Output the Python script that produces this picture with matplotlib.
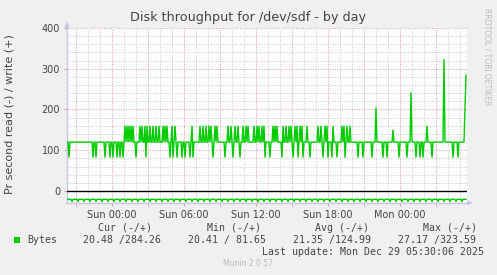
import numpy as np
import matplotlib
matplotlib.use('Agg')
import matplotlib.pyplot as plt
from matplotlib.patches import Polygon, Rectangle

# ---------------- data (5-minute samples, Sat 20:15 -> Mon 05:30) ----------------
start_hour = -3.75          # hours relative to Sun 00:00
step_hours = 5 / 60

write_bytes = [
    120,120,82,120,120,120,120,120,120,120,120,120,120,120,120,120,120,120,120,120,
    120,120,120,120,120,120,82,120,120,82,120,120,120,120,120,120,120,120,82,120,
    120,120,120,82,120,120,82,120,120,120,82,120,120,82,120,120,82,120,160,120,
    160,120,160,120,160,120,160,120,120,82,120,120,120,160,120,160,120,120,160,82,
    160,120,120,160,120,120,160,120,120,160,120,120,160,120,120,120,160,120,160,120,
    160,120,120,82,120,160,82,120,160,120,82,120,120,120,120,82,120,120,82,120,
    120,120,120,82,120,160,82,120,120,120,120,120,120,160,120,120,160,120,120,160,
    120,120,160,120,160,120,82,120,160,120,160,120,120,120,120,120,120,120,82,120,
    120,160,120,120,160,120,82,120,160,120,120,160,120,82,120,120,160,120,120,160,
    120,160,120,120,120,120,120,160,120,120,160,120,160,120,120,160,120,160,82,120,
    120,120,120,82,120,120,160,120,160,120,160,120,120,120,120,82,160,120,120,160,
    120,120,160,120,160,120,82,120,160,120,160,82,120,160,120,160,82,120,120,120,
    160,120,120,82,120,120,120,120,120,120,120,160,120,120,160,120,82,120,160,120,
    160,82,120,120,120,82,160,120,120,120,82,120,120,120,120,160,120,160,82,120,
    160,120,120,160,120,120,120,120,120,120,120,82,120,120,120,120,82,120,120,120,
    120,120,120,120,120,82,120,120,120,205,120,120,120,120,120,120,82,120,120,120,
    82,120,120,120,120,120,150,120,120,120,120,120,82,120,120,120,120,120,120,120,
    82,120,120,120,242,120,120,120,120,82,120,120,120,82,120,120,82,120,120,120,
    160,120,120,120,120,82,120,120,120,120,120,120,120,120,120,120,120,323.6,120,120,
    120,120,120,120,120,120,82,120,120,120,120,82,120,120,120,120,120,120,200,284.3,
]

read_bytes = [
    20.4,20.4,20.4,20.4,20.4,26.0,20.4,20.4,20.4,20.4,20.4,26.0,20.4,20.4,20.4,20.4,20.4,26.0,20.4,20.4,
    20.4,20.4,20.4,26.0,20.4,20.4,20.4,20.4,20.4,26.0,20.4,20.4,20.4,20.4,20.4,26.0,20.4,20.4,20.4,20.4,
    20.4,26.0,20.4,20.4,20.4,20.4,20.4,26.0,20.4,20.4,20.4,20.4,20.4,26.0,20.4,20.4,20.4,20.4,20.4,26.0,
    20.4,20.4,20.4,20.4,20.4,26.0,20.4,20.4,20.4,20.4,20.4,26.0,20.4,20.4,20.4,20.4,20.4,26.0,20.4,20.4,
    20.4,20.4,20.4,26.0,20.4,20.4,20.4,20.4,20.4,26.0,20.4,20.4,20.4,20.4,20.4,26.0,20.4,20.4,20.4,20.4,
    20.4,26.0,20.4,20.4,20.4,20.4,20.4,26.0,20.4,20.4,20.4,20.4,20.4,26.0,20.4,20.4,20.4,20.4,20.4,26.0,
    20.4,20.4,20.4,20.4,20.4,26.0,20.4,20.4,20.4,20.4,20.4,26.0,20.4,20.4,20.4,20.4,20.4,26.0,20.4,20.4,
    20.4,20.4,20.4,26.0,20.4,20.4,20.4,20.4,20.4,26.0,20.4,20.4,20.4,20.4,20.4,26.0,20.4,20.4,20.4,20.4,
    20.4,26.0,20.4,20.4,20.4,20.4,20.4,26.0,20.4,20.4,20.4,20.4,20.4,26.0,20.4,20.4,20.4,20.4,20.4,26.0,
    20.4,20.4,20.4,20.4,20.4,26.0,20.4,20.4,20.4,20.4,20.4,27.2,20.4,20.4,20.4,20.4,20.4,26.0,20.4,20.4,
    20.4,20.4,20.4,26.0,20.4,20.4,20.4,20.4,20.4,26.0,20.4,20.4,20.4,20.4,20.4,26.0,20.4,20.4,20.4,20.4,
    20.4,26.0,20.4,20.4,20.4,20.4,20.4,26.0,20.4,20.4,20.4,20.4,20.4,26.0,20.4,20.4,20.4,20.4,20.4,26.0,
    20.4,20.4,20.4,20.4,20.4,26.0,20.4,20.4,20.4,20.4,20.4,26.0,20.4,20.4,20.4,20.4,20.4,26.0,20.4,20.4,
    20.4,20.4,20.4,26.0,20.4,20.4,20.4,20.4,20.4,26.0,20.4,20.4,20.4,20.4,20.4,26.0,20.4,20.4,20.4,20.4,
    20.4,26.0,20.4,20.4,20.4,20.4,20.4,26.0,20.4,20.4,20.4,20.4,20.4,26.0,20.4,20.4,20.4,20.4,20.4,26.0,
    20.4,20.4,20.4,20.4,20.4,26.0,20.4,20.4,20.4,20.4,20.4,26.0,20.4,20.4,20.4,20.4,20.4,26.0,20.4,20.4,
    20.4,20.4,20.4,26.0,20.4,20.4,20.4,20.4,20.4,26.0,20.4,20.4,20.4,20.4,20.4,26.0,20.4,20.4,20.4,20.4,
    20.4,26.0,20.4,20.4,20.4,20.4,20.4,26.0,20.4,20.4,20.4,20.4,20.4,26.0,20.4,20.4,20.4,20.4,20.4,26.0,
    20.4,20.4,20.4,20.4,20.4,26.0,20.4,20.4,20.4,20.4,20.4,26.0,20.4,20.4,20.4,20.4,20.4,26.0,20.4,20.4,
    20.4,20.4,20.4,26.0,20.4,20.4,20.4,20.4,20.4,26.0,20.4,20.4,20.4,20.4,20.4,26.0,20.4,20.4,20.5,20.5,
]

x_tick_hours = [0, 6, 12, 18, 24]
x_tick_labels = ["Sun 00:00", "Sun 06:00", "Sun 12:00", "Sun 18:00", "Mon 00:00"]
y_ticks = [0, 100, 200, 300, 400]

legend_name = "Bytes"
stat_headers = ["Cur (-/+)", "Min (-/+)", "Avg (-/+)", "Max (-/+)"]
stat_values = ["20.48 /284.26", "20.41 / 81.65", "21.35 /124.99", "27.17 /323.59"]
last_update = "Last update: Mon Dec 29 05:30:06 2025"
title = "Disk throughput for /dev/sdf - by day"
ylabel = "Pr second read (-) / write (+)"

# ---------------- figure ----------------
W, H = 497, 275
BG = '#F0F0F0'
GREEN = '#00CC00'
TXT = '#444444'
AXC = '#C4C4F0'
MAJ = '#DE9A9A'
MIN = '#C8C8C8'

def px(x, y):
    return (x / W, 1 - y / H)

fig = plt.figure(figsize=(W / 100, H / 100), dpi=100, facecolor=BG)
ax = fig.add_axes([67 / W, 1 - 203 / H, 400 / W, 175 / H])
ax.set_facecolor('white')

t = start_hour + step_hours * np.arange(len(write_bytes))
x0, x1 = start_hour, start_hour + 400 * step_hours
ax.set_xlim(x0, x1)
ax.set_ylim(-29.5, 400)

# grid
dots = (0, (1, 1.5))
for v in range(-20, 401, 20):
    if v % 100 == 0:
        continue
    ax.axhline(v, color=MIN, lw=0.7, ls=dots, zorder=1)
for h in range(-3, 30):
    if h % 3 == 0:
        continue
    ax.axvline(h, color=MIN, lw=0.7, ls=dots, zorder=1)
for v in range(100, 401, 100):
    ax.axhline(v, color=MAJ, lw=0.7, ls=dots, zorder=1, clip_on=False)
for h in range(-3, 30, 3):
    ax.axvline(h, color=MAJ, lw=0.7, ls=dots, zorder=1)

ax.axhline(0, color='black', lw=1.0, zorder=3)

ax.plot(t, write_bytes, color=GREEN, lw=1.0, zorder=4, solid_joinstyle='miter')
ax.plot(t, -np.array(read_bytes), color=GREEN, lw=1.0, zorder=4)

# spines
for s in ['top', 'right']:
    ax.spines[s].set_visible(False)
for s in ['left', 'bottom']:
    ax.spines[s].set_color(AXC)
    ax.spines[s].set_linewidth(1.0)

ax.set_yticks(y_ticks)
ax.set_yticklabels([str(v) for v in y_ticks])
ax.set_xticks(x_tick_hours)
ax.set_xticklabels(x_tick_labels)
ax.set_xticks(range(-3, 30, 3), minor=True)
ax.tick_params(axis='both', which='major', length=2, color=MAJ, labelsize=7,
               labelcolor=TXT)
ax.tick_params(axis='x', which='minor', length=2, color=MAJ)
ax.tick_params(axis='y', pad=3)
ax.tick_params(axis='x', pad=3)

# axis arrows
fig.add_artist(Polygon([px(64.5, 28), px(69.5, 28), px(67, 21)], closed=True,
                       transform=fig.transFigure, color=AXC, lw=0))
fig.add_artist(Polygon([px(467, 200.5), px(467, 205.5), px(473, 203)], closed=True,
                       transform=fig.transFigure, color=AXC, lw=0))

# texts
fig.text(*px(248, 18), title, ha='center', va='center', fontsize=9.2, color=TXT)
fig.text(*px(10, 114), ylabel, ha='center', va='center', rotation=90,
         fontsize=8, color=TXT)
fig.text(*px(487, 57), "RRDTOOL / TOBI OETIKER", ha='center', va='center',
         rotation=270, fontsize=5.5, color='#BBBBBB')

MONO = 'DejaVu Sans Mono'
fs = 7.1
fig.add_artist(Rectangle(px(14, 243), 6 / W, 6 / H, transform=fig.transFigure,
                         color=GREEN, lw=0))
fig.text(*px(27, 240), legend_name, ha='left', va='center', family=MONO,
         fontsize=fs, color=TXT)
header_left = [98, 207, 315, 423]
value_left = [83, 188, 293, 398]
for hx, hd in zip(header_left, stat_headers):
    fig.text(*px(hx, 228), hd, ha='left', va='center', family=MONO, fontsize=fs, color=TXT)
for vx, vv in zip(value_left, stat_values):
    fig.text(*px(vx, 240), vv, ha='left', va='center', family=MONO, fontsize=fs, color=TXT)
fig.text(*px(262, 252), last_update, ha='left', va='center', family=MONO,
         fontsize=fs, color=TXT)
fig.text(*px(248, 264), "Munin 2.0.57", ha='center', va='center', fontsize=5.5,
         color='#BBBBBB')

fig.savefig('out.png', dpi=100, facecolor=BG)
